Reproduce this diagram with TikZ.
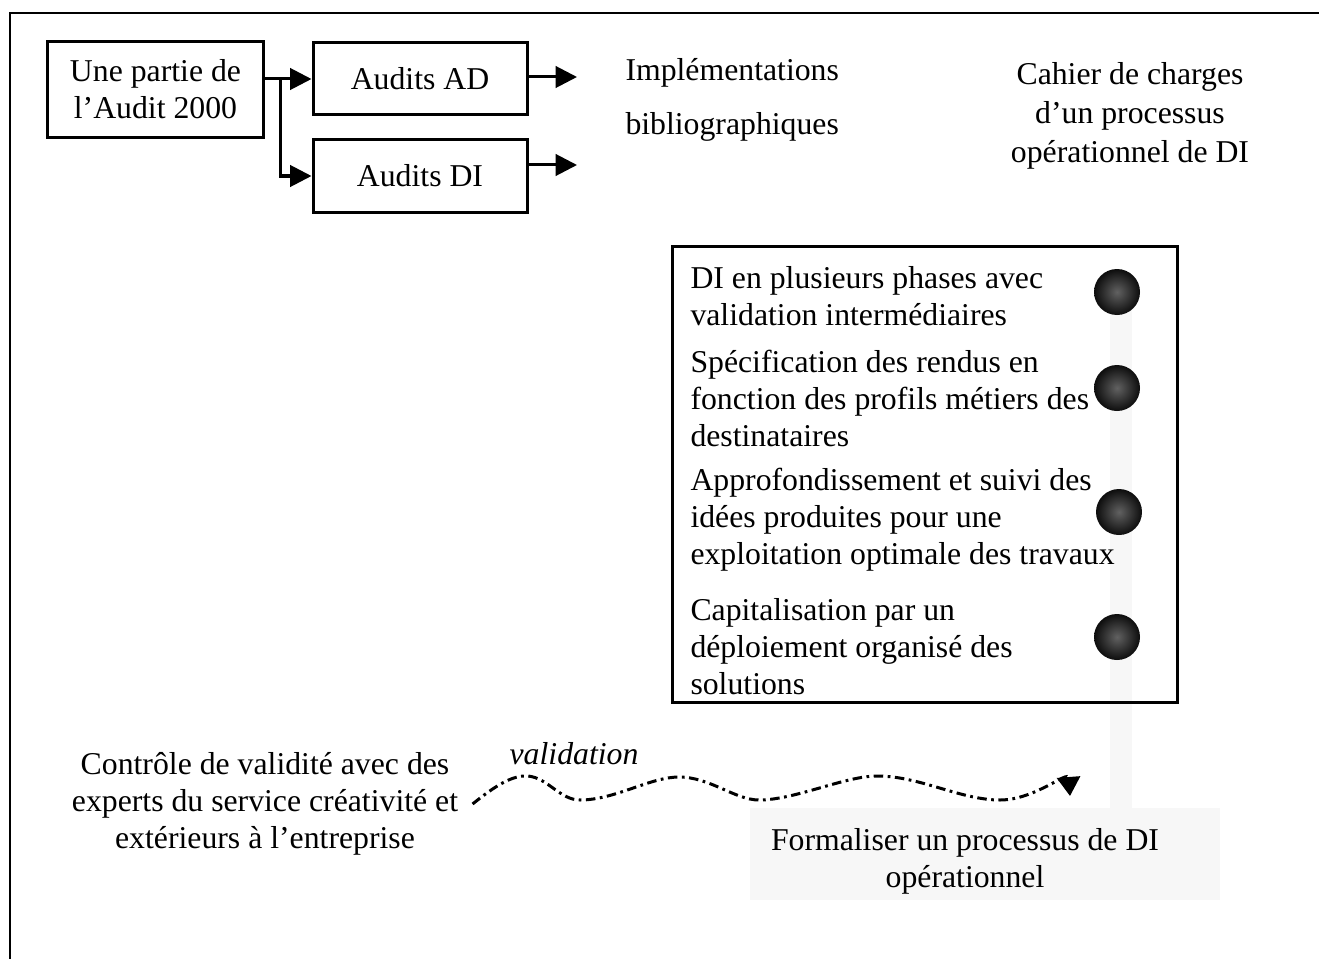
\documentclass[tikz,border=0pt]{standalone}
\usepackage{fontspec}
\setmainfont{Liberation Serif}
\usetikzlibrary{arrows.meta,positioning,calc}

\begin{document}
\begin{tikzpicture}[
  x=0.4pt,y=-0.4pt,
  font=\fontsize{12.7pt}{14.8pt}\selectfont,
  box/.style={draw,line width=1.2pt,align=center,inner sep=0pt},
  petit/.style={box,minimum width=85.6pt,minimum height=28.8pt},
  txt/.style={align=center,inner sep=0pt},
  item/.style={align=left,inner sep=0pt,anchor=west},
  puce/.style={circle,inner sep=0pt,minimum size=18.4pt,shading=radial,inner color=black!62,outer color=black!95},
  arr/.style={-{Triangle[length=8.6pt,width=8.6pt]},line width=1.2pt},
  vague/.style={-{Triangle[length=7.6pt,width=9.2pt]},line width=1.2pt,dash pattern=on 3.8pt off 1.8pt on 1.1pt off 1.8pt},
  fond/.style={fill=black!3},
]
\useasboundingbox (0,0) rectangle (1319,959);
\clip (0,0) rectangle (1319,959);
\draw[line width=1pt] (10,13) rectangle (1340,990);
% faint grey shapes of the scan
\fill[fond] (1110,300) rectangle (1132,810);
\fill[fond] (750,808) rectangle (1220,900);

% audits
\node[box,minimum width=86pt,minimum height=38pt] (part) at (155.5,89.5) {Une partie de\\l'Audit 2000};
\node[petit] (ad) at (420,79) {Audits AD};
\node[petit] (di) at (420,176) {Audits DI};
\coordinate (adout) at (577,77);
\coordinate (diout) at (577,165);
\coordinate (fork) at ($(part.east |- ad.west)+(16,0)$);
\draw[arr] (part.east |- ad.west) -- (ad.west);
\draw[arr] (fork) |- (di.west);
\draw[arr] (ad.east |- adout) -- (adout);
\draw[arr] (di.east |- diout) -- (diout);

\node[item] (impl) at (625,100) {Implémentations\\[6.8pt]bibliographiques};
\node[txt] (cahier) at (1130,116) {Cahier de charges\\[0.8pt]d'un processus\\[0.8pt]opérationnel de DI};

% liste des phases
\node[box,minimum width=202pt,minimum height=182pt] (liste) at (924.5,474.5) {};
\node[item] (it1) at (690,296) {DI en plusieurs phases avec\\validation intermédiaires};
\node[item] (it2) at (690,398.5) {Spécification des rendus en\\fonction des profils métiers des\\destinataires};
\node[item] (it3) at (690,520) {Approfondissement et suivi des\\idées produites pour une\\exploitation optimale des travaux};
\node[item] (it4) at (690,646.5) {Capitalisation par un\\déploiement organisé des\\solutions};
\node[puce] (b1) at (1117,292) {};
\node[puce] (b2) at (1117,388) {};
\node[puce] (b3) at (1119,512) {};
\node[puce] (b4) at (1117,637) {};

% validation
\node[txt] (ctrl) at (265,804) {Contrôle de validité avec des\\experts du service créativité et\\extérieurs à l'entreprise};
\node[txt,font=\fontsize{12.7pt}{14.8pt}\selectfont\itshape] (valid) at (574,754) {validation};
\node[txt] (form) at (965,861) {Formaliser un processus de DI\\opérationnel};
\coordinate (pointe) at (1070,796);
\draw[vague] ($(ctrl.east)+(14,0)$) .. controls (495,786) and (512,775) .. (528,776)
  .. controls (548,778) and (560,800) .. (580,800)
  .. controls (615,800) and (650,777) .. (679,777)
  .. controls (710,777) and (735,800) .. (759,800)
  .. controls (795,800) and (845,776) .. (877,776)
  .. controls (920,776) and (960,800) .. (1000,800)
  .. controls (1035,800) and (1068,770) .. (pointe);
\end{tikzpicture}
\end{document}
